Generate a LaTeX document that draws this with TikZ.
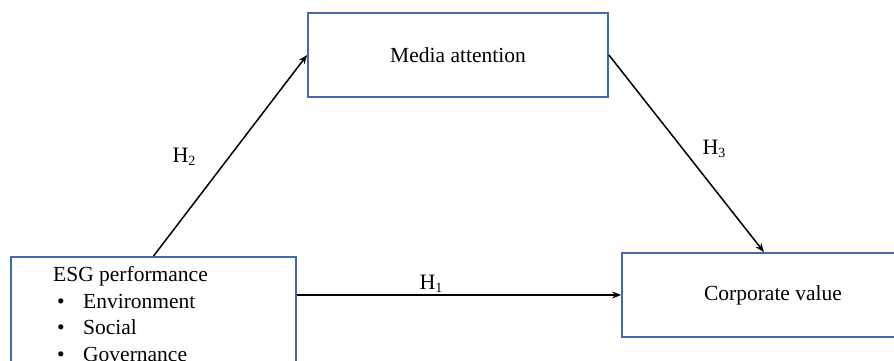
\documentclass[tikz,border=0pt]{standalone}
\usepackage{fontspec}
\setmainfont{Liberation Serif}
\usetikzlibrary{arrows.meta,calc}
\definecolor{boxblue}{RGB}{70,104,172}
\tikzset{
  boxnode/.style={draw=boxblue, line width=1.8pt, rectangle, inner sep=0pt},
  conn/.style={draw=black, line width=1.5pt, -{Stealth[length=9pt,width=7pt]}},
  lbl/.style={inner sep=0pt, font=\fontsize{22}{25}\selectfont}
}
\newcommand{\hyp}[1]{H\raisebox{-0.35ex}{\fontsize{14}{14}\selectfont #1}}
\begin{document}
\begin{tikzpicture}[x=1pt,y=-1pt]
\useasboundingbox (0,0) rectangle (894,361);
\clip (0,0) rectangle (894,361);
\node[boxnode, minimum width=300pt, minimum height=84pt, font=\fontsize{21.5}{25}\selectfont] (media) at (458,55) {Media attention};
\node[boxnode, minimum width=285pt, minimum height=125pt] (esg) at (153.5,319.5) {};
\node[boxnode, minimum width=302pt, minimum height=84pt, font=\fontsize{21.5}{25}\selectfont] (corp) at (773,295) {Corporate value};
\node[inner sep=0pt, anchor=north west, align=left, font=\fontsize{21.5}{26.5}\selectfont] (esgtext) at (53,266.5)
  {ESG performance\\
   \hspace*{4pt}\makebox[26pt][l]{\textbullet}Environment\\
   \hspace*{4pt}\makebox[26pt][l]{\textbullet}Social\\
   \hspace*{4pt}\makebox[26pt][l]{\textbullet}Governance};
\draw[conn] (esg.north) -- (media.west);
\draw[conn] (media.east) -- ([xshift=-9pt]corp.north);
\draw[conn] (esg.east |- corp.west) -- (corp.west);
\node[lbl] (h2) at (184,157) {\hyp{2}};
\node[lbl] (h3) at (714,149) {\hyp{3}};
\node[lbl] (h1) at (431,284) {\hyp{1}};
\end{tikzpicture}
\end{document}
